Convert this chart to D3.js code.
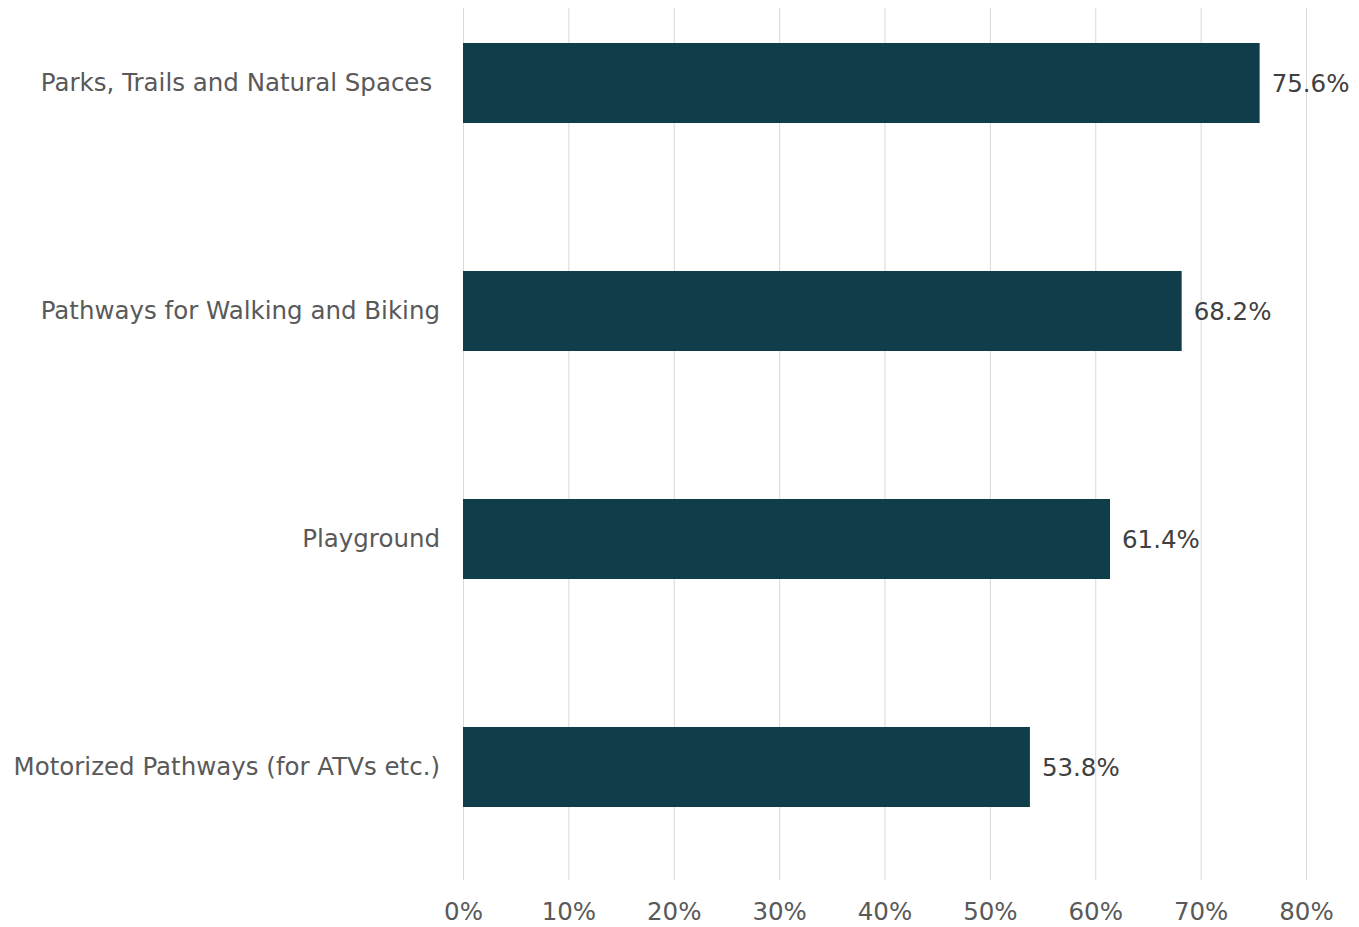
<!DOCTYPE html>
<html><head><meta charset="utf-8">
<script src="https://cdn.jsdelivr.net/npm/d3@7"></script>
<style>
html,body{margin:0;padding:0;background:#fff;}
text{font-family:"DejaVu Sans",Verdana,sans-serif;white-space:pre;}
</style></head>
<body>
<svg id="chart" width="1359" height="927"></svg>
<script>
const categories = ["Parks, Trails and Natural Spaces ", "Pathways for Walking and Biking", "Playground", "Motorized Pathways (for ATVs etc.)"];
const values = [75.6, 68.2, 61.4, 53.8];
const tickValues = [0, 10, 20, 30, 40, 50, 60, 70, 80];

const FS = 24.5;
const svg = d3.select("#chart");
const x = d3.scaleLinear().domain([0, 80]).range([463, 1306]);
const y = d3.scaleBand().domain(categories).range([-31, 881]).paddingInner(0.649).paddingOuter(0.3245);

// gridlines
svg.append("g").selectAll("line").data(tickValues).join("line")
  .attr("x1", d => x(d) + 0.5).attr("x2", d => x(d) + 0.5)
  .attr("y1", 8).attr("y2", 880)
  .attr("stroke", "#d9d9d9").attr("stroke-width", 1);

// bars
svg.append("g").selectAll("rect").data(values).join("rect")
  .attr("x", x(0)).attr("y", (d, i) => y(categories[i]))
  .attr("width", d => x(d) - x(0)).attr("height", y.bandwidth())
  .attr("fill", "#0f3d4a");

// value labels
svg.append("g").selectAll("text").data(values).join("text")
  .attr("x", d => x(d) + 12).attr("y", (d, i) => y(categories[i]) + y.bandwidth() / 2)
  .attr("dy", "0.36em")
  .attr("font-size", FS).attr("fill", "#404040")
  .text(d => d.toFixed(1) + "%");

// category labels
const yAxis = d3.axisLeft(y).tickSize(0).tickPadding(23);
const gy = svg.append("g").attr("transform", `translate(${x(0)},0)`).call(yAxis);
gy.select(".domain").remove();
gy.selectAll("text").attr("font-size", FS).attr("fill", "#595959").attr("font-family", null);

// x axis
const xAxis = d3.axisBottom(x).tickValues(tickValues).tickSize(0).tickPadding(23).tickFormat(d => d + "%");
const gx = svg.append("g").attr("transform", "translate(0,880)").call(xAxis);
gx.select(".domain").remove();
gx.selectAll("text").attr("font-size", FS).attr("fill", "#595959").attr("font-family", null);
</script>
</body></html>
